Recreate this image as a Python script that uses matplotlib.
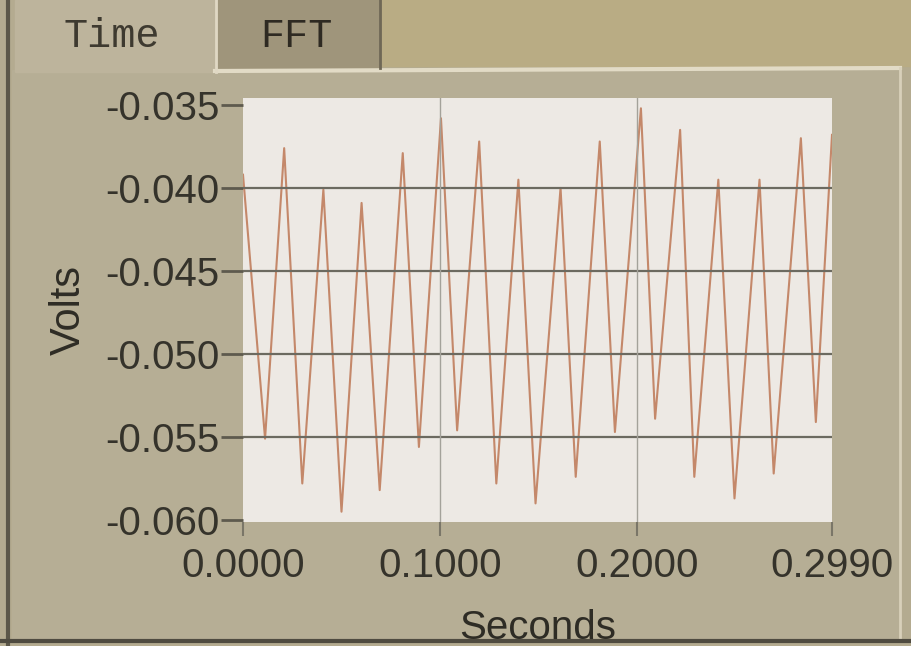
import matplotlib.pyplot as plt
from matplotlib.patches import Rectangle
from matplotlib.lines import Line2D

# peaks and troughs (seconds, volts)
t = [0.0000, 0.0112, 0.0209, 0.0301, 0.0408, 0.0500, 0.0602, 0.0694, 0.0811, 0.0893,
     0.1005, 0.1087, 0.1199, 0.1286, 0.1398, 0.1485, 0.1612, 0.1689, 0.1811, 0.1888,
     0.2020, 0.2092, 0.2219, 0.2291, 0.2413, 0.2495, 0.2622, 0.2694, 0.2832, 0.2908,
     0.2990]
volts = [-0.0392, -0.0551, -0.0376, -0.0578, -0.0401, -0.0595, -0.0409, -0.0582, -0.0379, -0.0556,
         -0.0358, -0.0546, -0.0372, -0.0578, -0.0395, -0.0590, -0.0400, -0.0574, -0.0372, -0.0547,
         -0.0352, -0.0539, -0.0365, -0.0574, -0.0395, -0.0587, -0.0395, -0.0572, -0.0370, -0.0541,
         -0.0368]

xticks = [0.0, 0.1, 0.2, 0.299]
xtick_labels = ['0.0000', '0.1000', '0.2000', '0.2990']
yticks = [-0.060, -0.055, -0.050, -0.045, -0.040, -0.035]
ytick_labels = ['-0.060', '-0.055', '-0.050', '-0.045', '-0.040', '-0.035']

W, H = 912, 646
fig = plt.figure(figsize=(W / 100, H / 100), dpi=100)
fig.patch.set_facecolor('#b4ab90')


def px_rect(x0, y0, x1, y1, color, z=0):
    # rectangle given in pixel coords from top-left
    fig.patches.append(Rectangle((x0 / W, 1 - y1 / H), (x1 - x0) / W, (y1 - y0) / H,
                                 transform=fig.transFigure, color=color, zorder=z))


def px_line(x0, y0, x1, y1, color, lw):
    fig.lines.append(Line2D([x0 / W, x1 / W], [1 - y0 / H, 1 - y1 / H],
                            transform=fig.transFigure, color=color, lw=lw, zorder=1))


# panel and tabs
px_rect(380, 0, 912, 66, '#b9ac84')
px_rect(12, 70, 900, 640, '#b6ae95')
px_rect(15, 0, 215, 72, '#bdb49c')
px_rect(218, 0, 380, 68, '#9f957b')
px_line(215, 71, 900, 68, '#e2dbc6', 3)
px_line(900, 68, 900, 640, '#d8d0ba', 2)
px_line(8, 0, 8, 646, '#5c5749', 3)
px_line(0, 641, 912, 641, '#4f4b40', 3)
px_line(216, 0, 216, 72, '#e0d8c4', 2)
px_line(380, 0, 380, 68, '#6f6856', 2)

fig.text(112 / W, 1 - 36 / H, 'Time', family='Liberation Mono', fontsize=29,
         color='#3e3a30', ha='center', va='center')
fig.text(296 / W, 1 - 36 / H, 'FFT', family='Liberation Mono', fontsize=29,
         color='#2e2a22', ha='center', va='center')

ax = fig.add_axes([243 / W, 1 - 522 / H, (832 - 243) / W, (522 - 98) / H])
ax.set_zorder(5)
ax.set_facecolor('#ede9e4')
ax.plot(t, volts, color='#c4886a', lw=1.5)

ax.set_xlim(0, 0.299)
ax.set_ylim(-0.06012, -0.03458)

font = ['Liberation Sans Narrow', 'Liberation Sans']
ax.set_xticks(xticks)
ax.set_xticklabels(xtick_labels, family=font, fontsize=29, color='#35332b')
ax.set_yticks(yticks)
ax.set_yticklabels(ytick_labels, family=font, fontsize=29, color='#35332b')
ax.tick_params(axis='y', length=16, width=2, color='#5e5a4e', pad=1)
ax.tick_params(axis='x', length=10, width=1.5, color='#7a7668', pad=8, direction='out')

for y in yticks[1:-1]:
    ax.axhline(y, color='#6c6a60', lw=1.6)
for x in xticks[1:3]:
    ax.axvline(x, color='#a4a29a', lw=1.0)
for s in ax.spines.values():
    s.set_visible(False)

ax.set_ylabel('Volts', family=font, fontsize=30, color='#2e2c25', labelpad=12)
ax.set_xlabel('Seconds', family=font, fontsize=29, color='#2e2c25', labelpad=17)

fig.savefig('out.png', dpi=100, facecolor=fig.get_facecolor())
